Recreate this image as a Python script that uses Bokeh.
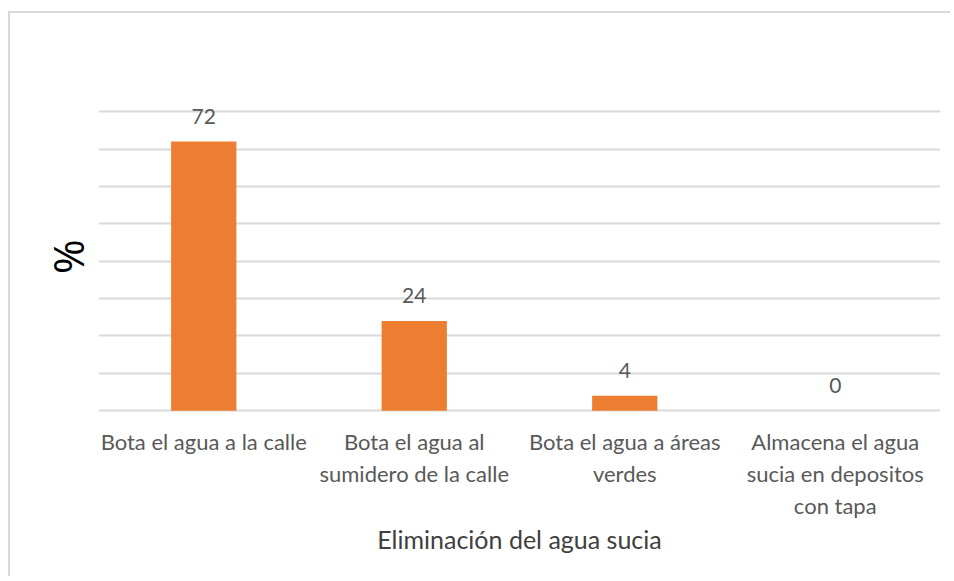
from bokeh.plotting import figure
from bokeh.models import FactorRange, Range1d, FixedTicker, LabelSet, ColumnDataSource
from bokeh.core.properties import value
from bokeh.embed import file_html
from bokeh.resources import INLINE

categories = [
    "Bota el agua a la calle",
    "Bota el agua al\nsumidero de la calle",
    "Bota el agua a áreas\nverdes",
    "Almacena el agua\nsucia en depositos\ncon tapa",
]
values = [72, 24, 4, 0]
value_labels = ["72", "24", "4", "0"]
grid_ticks = [0, 10, 20, 30, 40, 50, 60, 70, 80]
x_title = "Eliminación del agua sucia"
y_title = "%"

FONT = "Lato"
GREY = "#595959"

source = ColumnDataSource(dict(cat=categories, val=values, lab=value_labels))

p = figure(
    x_range=FactorRange(*categories, range_padding=0),
    y_range=Range1d(-0.5, 83),
    width=942, height=565,
    output_backend="svg", toolbar_location=None,
    min_border_left=88, min_border_right=12, min_border_top=87, min_border_bottom=166,
)
p.styles = {"border-left": "2px solid #d9d9d9", "border-top": "2px solid #d9d9d9",
            "margin-top": "11px", "margin-left": "8px"}
p.outline_line_color = None
p.background_fill_color = "white"
p.border_fill_color = "white"

p.vbar(x="cat", top="val", bottom=0, width=0.31, source=source,
       fill_color="#ED7D31", line_color=None)

labels = LabelSet(x="cat", y="val", text="lab", source=source, y_offset=18,
                  text_align="center", text_baseline="alphabetic",
                  text_font=value(FONT), text_font_size=value("21px"), text_color=GREY)
p.add_layout(labels)

p.xgrid.grid_line_color = None
p.ygrid.ticker = FixedTicker(ticks=grid_ticks)
p.ygrid.grid_line_color = "#d9d9d9"
p.ygrid.grid_line_width = 2

p.xaxis.axis_line_color = None
p.xaxis.major_tick_line_color = None
p.xaxis.minor_tick_line_color = None
p.xaxis.major_label_text_font = FONT
p.xaxis.major_label_text_font_size = "22px"
p.xaxis.major_label_text_color = GREY
p.xaxis.major_label_standoff = 9
p.xaxis.axis_label = x_title
p.xaxis.axis_label_text_font = FONT
p.xaxis.axis_label_text_font_size = "25px"
p.xaxis.axis_label_text_font_style = "normal"
p.xaxis.axis_label_text_color = "#404040"
p.xaxis.axis_label_standoff = 2

p.yaxis.axis_line_color = None
p.yaxis.major_tick_line_color = None
p.yaxis.minor_tick_line_color = None
p.yaxis.major_label_text_font_size = "0px"
p.yaxis.axis_label = y_title
p.yaxis.axis_label_text_font = "Open Sans"
p.yaxis.axis_label_text_font_size = "42px"
p.yaxis.axis_label_text_font_style = "normal"
p.yaxis.axis_label_text_color = "#000000"
p.yaxis.axis_label_standoff = -3

open("out.html", "w").write(file_html(p, INLINE))
